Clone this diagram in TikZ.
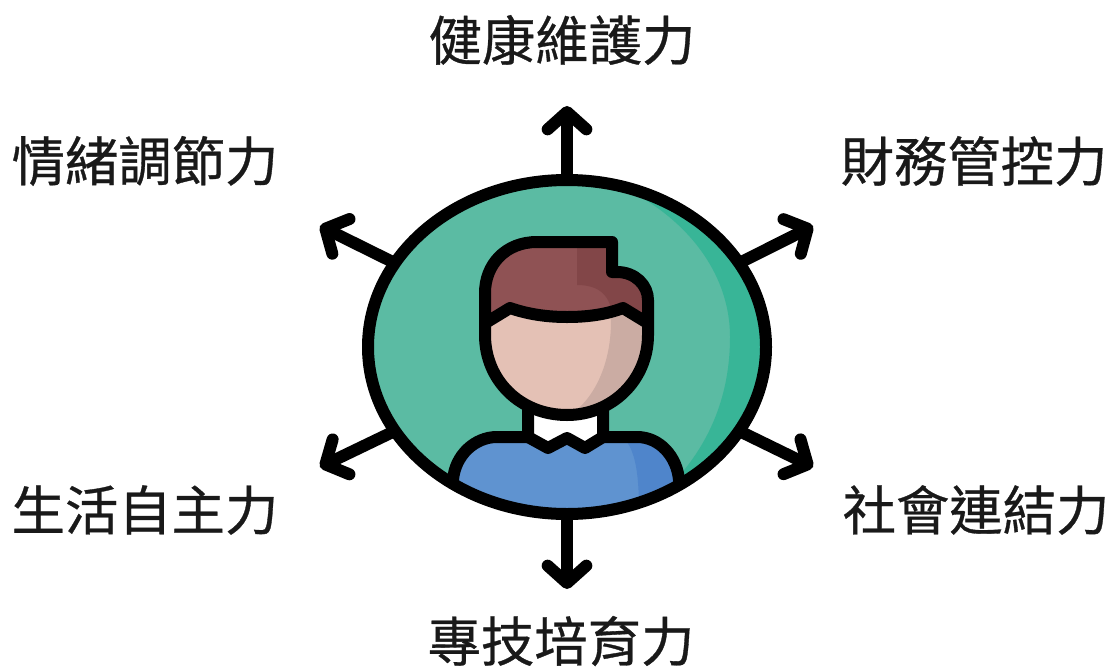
\documentclass[tikz,border=0pt]{standalone}
\usepackage{fontspec}
\setmainfont[FakeBold=0.6]{Noto Sans CJK TC}
\usetikzlibrary{arrows.meta, shapes.geometric}
\definecolor{ringlight}{HTML}{5BBBA3}
\definecolor{ringdark}{HTML}{38B597}
\definecolor{hairlight}{HTML}{8F5254}
\definecolor{hairdark}{HTML}{824648}
\definecolor{skinlight}{HTML}{E4C1B5}
\definecolor{skindark}{HTML}{CBACA3}
\definecolor{shirtlight}{HTML}{5F93D0}
\definecolor{shirtdark}{HTML}{4F85CB}
\tikzset{
    outline/.style={line width=9pt, black, line join=round, line cap=round},
    spoke/.style={line width=9pt, black, -{Straight Barb[round,length=13pt,width=29pt]}},
    skill/.style={font=\fontsize{40}{40}\selectfont, inner sep=0pt, text=black!90}
}
\begin{document}
\begin{tikzpicture}[x=0.75pt, y=-0.75pt]
    \useasboundingbox (0,0) rectangle (1116,667);

    % labels
    \node[skill] (health) at (562,40) {健康維護力};
    \node[skill] (emotion) at (145,161) {情緒調節力};
    \node[skill] (finance) at (974,161) {財務管控力};
    \node[skill] (life) at (145,510) {生活自主力};
    \node[skill] (social) at (976,510) {社會連結力};
    \node[skill] (skill) at (561,641) {專技培育力};

    % arrow ends
    \coordinate (tipN) at (567,106);
    \coordinate (tipS) at (567,589);
    \coordinate (tipNW) at (320,226);
    \coordinate (tipNE) at (813,226);
    \coordinate (tipSW) at (320,467);
    \coordinate (tipSE) at (813,467);

    % ring
    \node[ellipse, minimum width=398*0.75pt, minimum height=334*0.75pt, inner sep=0pt, fill=ringlight] (ring) at (567,347) {};

    % arrows
    \foreach \ang/\tip in {
        90/tipN,
        270/tipS,
        154/tipNW,
        26/tipNE,
        206/tipSW,
        334/tipSE}
    {
        \draw[spoke] (ring.\ang) -- (\tip);
    }

    \begin{scope}
        \clip (567,347) ellipse (199 and 167);
        % ring shade
        \fill[ringdark] (600,178) .. controls (675,205) and (730,265) .. (730,337)
            .. controls (730,395) and (710,440) .. (680,475) -- (780,480) -- (780,175) -- cycle;

        % shirt
        \fill[shirtlight] (453,530) -- (453,480) .. controls (455,455) and (475,437) .. (497,437)
            -- (637,437) .. controls (660,437) and (677,457) .. (679,480) -- (679,530) -- cycle;
        \fill[shirtdark] (623,437) .. controls (635,450) and (640,470) .. (639,530)
            -- (679,530) -- (679,480) .. controls (677,457) and (660,437) .. (637,437) -- cycle;
        \draw[outline] (453,530) -- (453,480) .. controls (455,455) and (475,437) .. (497,437) -- (528,437);
        \draw[outline] (603,437) -- (637,437) .. controls (660,437) and (677,457) .. (679,480) -- (679,530);
    \end{scope}

    % neck and collar
    \fill[white] (528,405) -- (528,437) -- (548,448) -- (567,438) -- (585,448) -- (603,437) -- (603,405) -- cycle;
    \draw[outline] (528,405) -- (528,437) -- (548,448) -- (567,438) -- (585,448) -- (603,437) -- (603,405);

    % face
    \fill[skinlight] (485,300) -- (485,335) .. controls (485,380) and (520,415) .. (567,415)
        .. controls (612,415) and (648,380) .. (648,335) -- (648,300) -- cycle;
    \fill[skindark] (610,305) .. controls (615,350) and (600,395) .. (570,415)
        .. controls (612,415) and (648,380) .. (648,335) -- (648,305) -- cycle;

    % hair
    \fill[hairlight] (612,242) -- (537,242) .. controls (505,242) and (485,265) .. (485,293) -- (485,322)
        -- (510,308) .. controls (530,315) and (550,317) .. (567,317)
        .. controls (585,317) and (605,315) .. (623,308) -- (648,322) -- (648,300)
        .. controls (648,285) and (635,272) .. (617,272) -- (612,272) -- cycle;
    \fill[hairdark] (577,242) -- (577,285) .. controls (595,285) and (610,292) .. (612,315)
        -- (623,308) -- (648,322) -- (648,300)
        .. controls (648,285) and (635,272) .. (617,272) -- (612,272) -- (612,242) -- cycle;

    % head outline
    \draw[outline] (612,242) -- (537,242) .. controls (505,242) and (485,265) .. (485,293) -- (485,335)
        .. controls (485,380) and (520,415) .. (567,415)
        .. controls (612,415) and (648,380) .. (648,335) -- (648,300)
        .. controls (648,285) and (635,272) .. (617,272) -- (612,272) -- cycle;
    \draw[outline] (487,322) -- (510,308) .. controls (530,315) and (550,317) .. (567,317)
        .. controls (585,317) and (605,315) .. (623,308) -- (646,322);

    % ring border
    \draw[outline] (ring.center) ellipse (199 and 167);
\end{tikzpicture}
\end{document}
